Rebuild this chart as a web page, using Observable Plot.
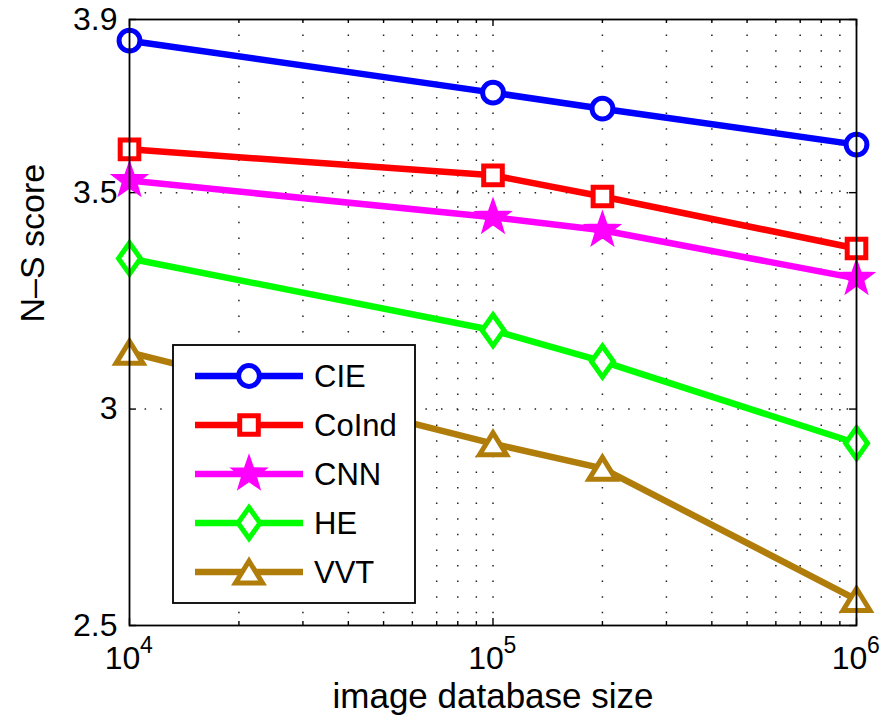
<!DOCTYPE html>
<html>
<head>
<meta charset="utf-8">
<script src="https://cdn.jsdelivr.net/npm/d3@7"></script>
<script src="https://cdn.jsdelivr.net/npm/@observablehq/plot@0.6"></script>
<style>
  html, body { margin: 0; padding: 0; background: #fff; }
  #chart { width: 891px; height: 728px; }
</style>
</head>
<body>
<div id="chart"></div>
<script>
// ---- data ----
const sizes = [1e4, 1e5, 2e5, 1e6];
const seriesNames = ["CIE", "CoInd", "CNN", "HE", "VVT"];
const cie   = [3.851, 3.731, 3.694, 3.611];
const coind = [3.600, 3.540, 3.491, 3.371];
const cnn   = [3.528, 3.443, 3.413, 3.302];
const he    = [3.348, 3.182, 3.110, 2.921];
const vvt   = [3.131, 2.920, 2.863, 2.560];
const yTicks = [2.5, 3, 3.5, 3.9];
const yGrid = [3, 3.5];
const xMajor = [1e4, 1e5, 1e6];
const xExponents = ["4", "5", "6"];
const xMinor = [2e4, 3e4, 4e4, 5e4, 6e4, 7e4, 8e4, 9e4, 2e5, 3e5, 4e5, 5e5, 6e5, 7e5, 8e5, 9e5];
const xLabel = "image database size";
const yLabel = "N–S score";

// ---- styles ----
const colors = {CIE: "#0000ff", CoInd: "#ff0000", CNN: "#ff00ff", HE: "#00ff00", VVT: "#b07d0b"};
const values = {CIE: cie, CoInd: coind, CNN: cnn, HE: he, VVT: vvt};

const symbols = {
  CIE: {draw(c) { c.moveTo(10.4, 0); c.arc(0, 0, 10.4, 0, 2 * Math.PI); c.closePath(); }},
  CoInd: {draw(c) { c.moveTo(-9.3, -9.3); c.lineTo(9.3, -9.3); c.lineTo(9.3, 9.3); c.lineTo(-9.3, 9.3); c.closePath(); }},
  CNN: {draw(c) {
    const R = 18.5, r = R * 0.4;
    for (let i = 0; i < 10; i++) {
      const a = -Math.PI / 2 + i * Math.PI / 5;
      const rr = i % 2 ? r : R;
      const x = rr * Math.cos(a), y = rr * Math.sin(a);
      i ? c.lineTo(x, y) : c.moveTo(x, y);
    }
    c.closePath();
  }},
  HE: {draw(c) { c.moveTo(0, -15.5); c.lineTo(11, 0); c.lineTo(0, 15.5); c.lineTo(-11, 0); c.closePath(); }},
  VVT: {draw(c) { c.moveTo(0, -11); c.lineTo(13.5, 11); c.lineTo(-13.5, 11); c.closePath(); }}
};
const markerStyle = {
  CIE:   {fill: "white", strokeWidth: 5},
  CoInd: {fill: "white", strokeWidth: 5},
  CNN:   {fill: colors.CNN, strokeWidth: 1.5},
  HE:    {fill: "white", strokeWidth: 5},
  VVT:   {fill: "white", strokeWidth: 5}
};

const table = seriesNames.flatMap(s => sizes.map((x, i) => ({series: s, x, y: values[s][i]})));

const W = 891, H = 728;
const mL = 129, mR = 35, mT = 19, mB = 103;
const plotW = W - mL - mR, plotH = H - mT - mB;
const lineW = 6.5;

const seriesMarks = seriesNames.flatMap(s => {
  const d = table.filter(r => r.series === s);
  return [
    Plot.line(d, {x: "x", y: "y", stroke: colors[s], strokeWidth: lineW, strokeLinejoin: "round"}),
    Plot.dot(d, {x: "x", y: "y", symbol: symbols[s], r: 10, stroke: colors[s], fill: markerStyle[s].fill, strokeWidth: markerStyle[s].strokeWidth})
  ];
});

const gridColor = "#222";
const plot = Plot.plot({
  width: W, height: H,
  marginLeft: mL, marginRight: mR, marginTop: mT, marginBottom: mB,
  style: {fontFamily: "'Liberation Sans', Arial, Helvetica, sans-serif", background: "white", color: "black"},
  x: {type: "log", domain: [1e4, 1e6], axis: null},
  y: {domain: [2.5, 3.9], axis: null},
  marks: [
    // dotted grid
    Plot.ruleX(xMinor.concat([1e5]), {x: d => d, stroke: gridColor, strokeWidth: 1.5, strokeDasharray: "1.5,14.1"}),
    Plot.ruleY(yGrid, {y: d => d, stroke: gridColor, strokeWidth: 1.5, strokeDasharray: "1.5,14.1"}),
    // inward ticks
    Plot.tickY(yTicks, {y: d => d, insetRight: plotW - 7, stroke: "black", strokeWidth: 1.4}),
    Plot.tickY(yTicks, {y: d => d, insetLeft: plotW - 7, stroke: "black", strokeWidth: 1.4}),
    Plot.tickX(xMajor, {x: d => d, insetTop: plotH - 7, stroke: "black", strokeWidth: 1.4}),
    Plot.tickX(xMajor, {x: d => d, insetBottom: plotH - 7, stroke: "black", strokeWidth: 1.4}),
    Plot.tickX(xMinor, {x: d => d, insetTop: plotH - 4, stroke: "black", strokeWidth: 1.4}),
    Plot.tickX(xMinor, {x: d => d, insetBottom: plotH - 4, stroke: "black", strokeWidth: 1.4}),
    // tick labels
    Plot.text(yTicks, {y: d => d, frameAnchor: "left", text: d => String(d), textAnchor: "end", dx: -12, fontSize: 32, fill: "black"}),
    Plot.text(xMajor, {x: d => d, frameAnchor: "bottom", text: () => "10", dx: -7, dy: 43, fontSize: 32, fill: "black"}),
    Plot.text(xMajor, {x: d => d, frameAnchor: "bottom", text: (d, i) => xExponents[i], dx: 17, dy: 27, fontSize: 23, fill: "black"}),
    // axis labels
    Plot.text([xLabel], {frameAnchor: "bottom", text: d => d, dy: 82, fontSize: 35, fill: "black"}),
    Plot.text([yLabel], {frameAnchor: "left", text: d => d, rotate: -90, dx: -96, fontSize: 34, fill: "black"}),
    // series
    ...seriesMarks,
    Plot.frame({stroke: "black", strokeWidth: 1.8})
  ]
});

document.getElementById("chart").appendChild(plot);

// ---- legend (drawn inside the axes, on top) ----
const svg = d3.select(plot);
const lg = svg.append("g").attr("class", "legend");
const box = {x: 173, y: 345, w: 242, h: 258};
lg.append("rect").attr("x", box.x).attr("y", box.y).attr("width", box.w).attr("height", box.h)
  .attr("fill", "white").attr("stroke", "black").attr("stroke-width", 1.8);
seriesNames.forEach((s, i) => {
  const cy = 376 + i * 49;
  const row = lg.append("g");
  row.append("line").attr("x1", 195).attr("x2", 303).attr("y1", cy).attr("y2", cy)
    .attr("stroke", colors[s]).attr("stroke-width", lineW);
  const p = d3.path();
  symbols[s].draw(p);
  row.append("path").attr("d", p.toString()).attr("transform", `translate(249,${cy})`)
    .attr("fill", markerStyle[s].fill).attr("stroke", colors[s]).attr("stroke-width", markerStyle[s].strokeWidth)
    .attr("stroke-linejoin", "miter");
  row.append("text").attr("x", 314).attr("y", cy).attr("dy", "0.35em")
    .attr("text-anchor", "start")
    .attr("font-size", 31).attr("fill", "black").text(s);
});
</script>
</body>
</html>
